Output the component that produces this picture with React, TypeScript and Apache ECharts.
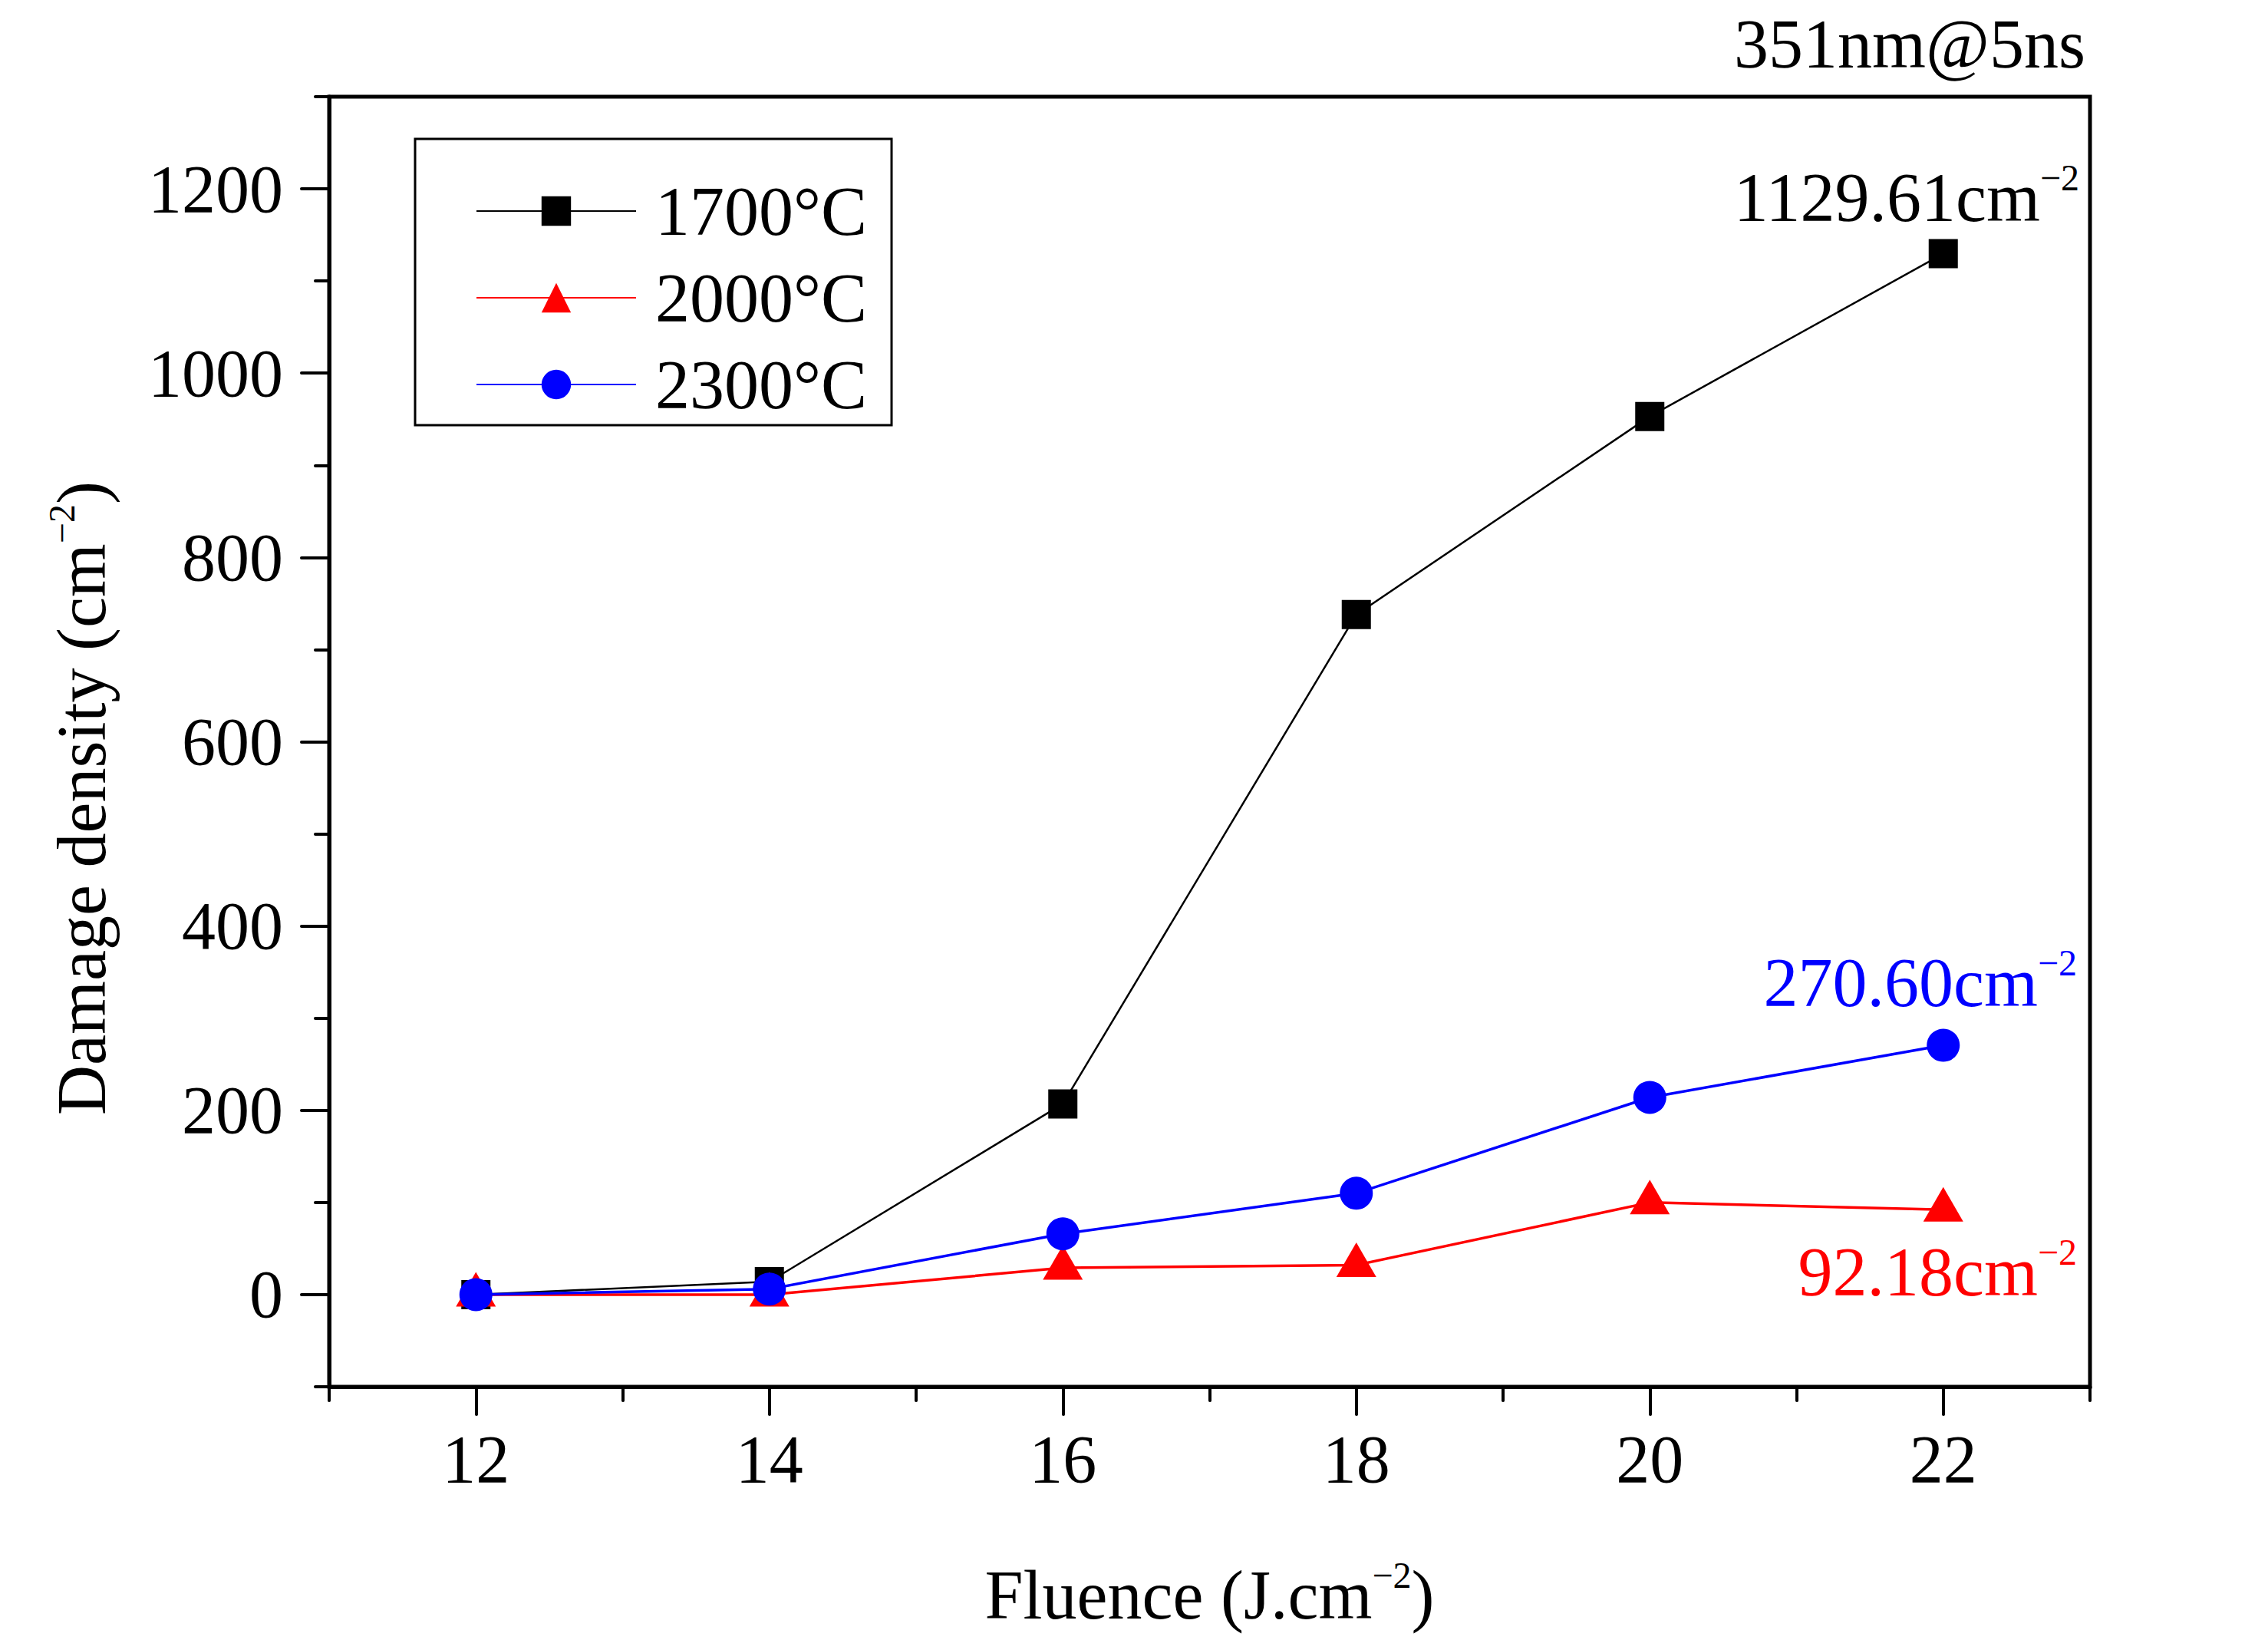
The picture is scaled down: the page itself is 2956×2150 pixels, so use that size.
import { useRef, useEffect } from 'react';
import * as echarts from 'echarts';

// --- data ---
const fluence = [12, 14, 16, 18, 20, 22];
const density1700 = [0, 14, 207, 738, 953, 1129.61];
const density2000 = [0, 0, 29, 32, 100, 92.18];
const density2300 = [0, 6, 66, 110, 214, 270.6];

const xMajorTicks = [12, 14, 16, 18, 20, 22];
const xMinorTicks = [11, 13, 15, 17, 19, 21, 23];
const yMajorTicks = [0, 200, 400, 600, 800, 1000, 1200];
const yMinorTicks = [-100, 100, 300, 500, 700, 900, 1100, 1300];

const seriesNames = ['1700°C', '2000°C', '2300°C'];

const FONT = 'Liberation Serif';

// rich styles for axis names (echarts label options use `color`)
const richLabel = (color: string) => ({
  m: { fontFamily: FONT, fontSize: 90, lineHeight: 100, color },
  s: { fontFamily: FONT, fontSize: 48, lineHeight: 36, verticalAlign: 'top', color },
});

// rich styles for graphic texts (raw zrender style uses `fill`)
const richGraphic = (fill: string) => ({
  m: { fontFamily: FONT, fontSize: 90, lineHeight: 100, fill },
  s: { fontFamily: FONT, fontSize: 48, lineHeight: 36, verticalAlign: 'top', fill },
});

const pairs = (ys: number[]) => fluence.map((x, i) => [x, ys[i]]);

export default function App() {
  const chartRef = useRef<HTMLDivElement>(null);

  useEffect(() => {
    if (!chartRef.current) return;
    const chart = echarts.init(chartRef.current, null, { renderer: 'svg' });

    const axisLabelStyle = { fontFamily: FONT, fontSize: 88, color: '#000' };
    const tickLine = { color: '#000', width: 4, cap: 'round' };

    const note = (text: string, x: number, y: number, fill: string) => ({
      type: 'text',
      x,
      y,
      style: { text, rich: richGraphic(fill), fill, textAlign: 'right', verticalAlign: 'top' },
    });

    chart.setOption({
      animation: false,
      backgroundColor: '#fff',
      grid: {
        left: 429,
        top: 126,
        width: 2295,
        height: 1681,
        show: true,
        borderColor: '#000',
        borderWidth: 5,
      },
      xAxis: [
        {
          type: 'value',
          min: 11,
          max: 23,
          position: 'bottom',
          axisLine: { onZero: false, lineStyle: { color: '#000', width: 5 } },
          axisTick: { customValues: xMajorTicks, length: 36, lineStyle: tickLine },
          axisLabel: { customValues: xMajorTicks, margin: 50, formatter: (v: number) => String(v), ...axisLabelStyle },
          splitLine: { show: false },
          name: '{m|Fluence (J.cm}{s|−2}{m|)}',
          nameLocation: 'middle',
          nameGap: 221,
          nameTextStyle: { rich: richLabel('#000') },
        },
        {
          type: 'value',
          min: 11,
          max: 23,
          position: 'bottom',
          axisLine: { show: false, onZero: false },
          axisTick: { customValues: xMinorTicks, length: 18, lineStyle: tickLine },
          axisLabel: { show: false },
          splitLine: { show: false },
        },
      ],
      yAxis: [
        {
          type: 'value',
          min: -100,
          max: 1300,
          position: 'left',
          axisLine: { onZero: false, lineStyle: { color: '#000', width: 5 } },
          axisTick: { customValues: yMajorTicks, length: 36, lineStyle: tickLine },
          axisLabel: { customValues: yMajorTicks, margin: 60, formatter: (v: number) => String(v), ...axisLabelStyle },
          splitLine: { show: false },
        },
        {
          type: 'value',
          min: -100,
          max: 1300,
          position: 'left',
          axisLine: { show: false, onZero: false },
          axisTick: { customValues: yMinorTicks, length: 18, lineStyle: tickLine },
          axisLabel: { show: false },
          splitLine: { show: false },
        },
      ],
      legend: {
        orient: 'vertical',
        left: 541,
        top: 181,
        data: seriesNames,
        itemWidth: 208,
        itemHeight: 48,
        itemGap: 23,
        padding: [49, 32, 8, 79],
        borderColor: '#000',
        borderWidth: 3,
        textStyle: { fontFamily: FONT, fontSize: 90, color: '#000', padding: [0, 0, 0, 20] },
      },
      graphic: [
        note('{m|351nm@5ns}', 2718, 7, '#000000'),
        note('{m|1129.61cm}{s|−2}', 2710, 207, '#000000'),
        note('{m|270.60cm}{s|−2}', 2707, 1230, '#0000ff'),
        note('{m|92.18cm}{s|−2}', 2707, 1607, '#ff0000'),
        {
          type: 'text',
          x: 106,
          y: 1040,
          rotation: Math.PI / 2,
          style: {
            text: '{m|Damage density (cm}{s|−2}{m|)}',
            rich: richGraphic('#000000'),
            fill: '#000000',
            textAlign: 'center',
            verticalAlign: 'middle',
          },
        },
      ],
      series: [
        {
          name: seriesNames[0],
          type: 'line',
          data: pairs(density1700),
          symbol: 'rect',
          symbolSize: 38,
          itemStyle: { color: '#000' },
          lineStyle: { color: '#000', width: 2.5 },
        },
        {
          name: seriesNames[1],
          type: 'line',
          data: pairs(density2000),
          symbol: 'triangle',
          symbolSize: [52, 45],
          symbolOffset: [0, -7],
          itemStyle: { color: '#ff0000' },
          lineStyle: { color: '#ff0000', width: 3.5 },
        },
        {
          name: seriesNames[2],
          type: 'line',
          data: pairs(density2300),
          symbol: 'circle',
          symbolSize: 43,
          itemStyle: { color: '#0000ff' },
          lineStyle: { color: '#0000ff', width: 3.5 },
        },
      ],
    });

    return () => {
      chart.dispose();
    };
  }, []);

  return (
    <div
      ref={chartRef}
      style={{ position: 'absolute', left: 0, top: 0, width: 2956, height: 2150, background: '#fff' }}
    />
  );
}
